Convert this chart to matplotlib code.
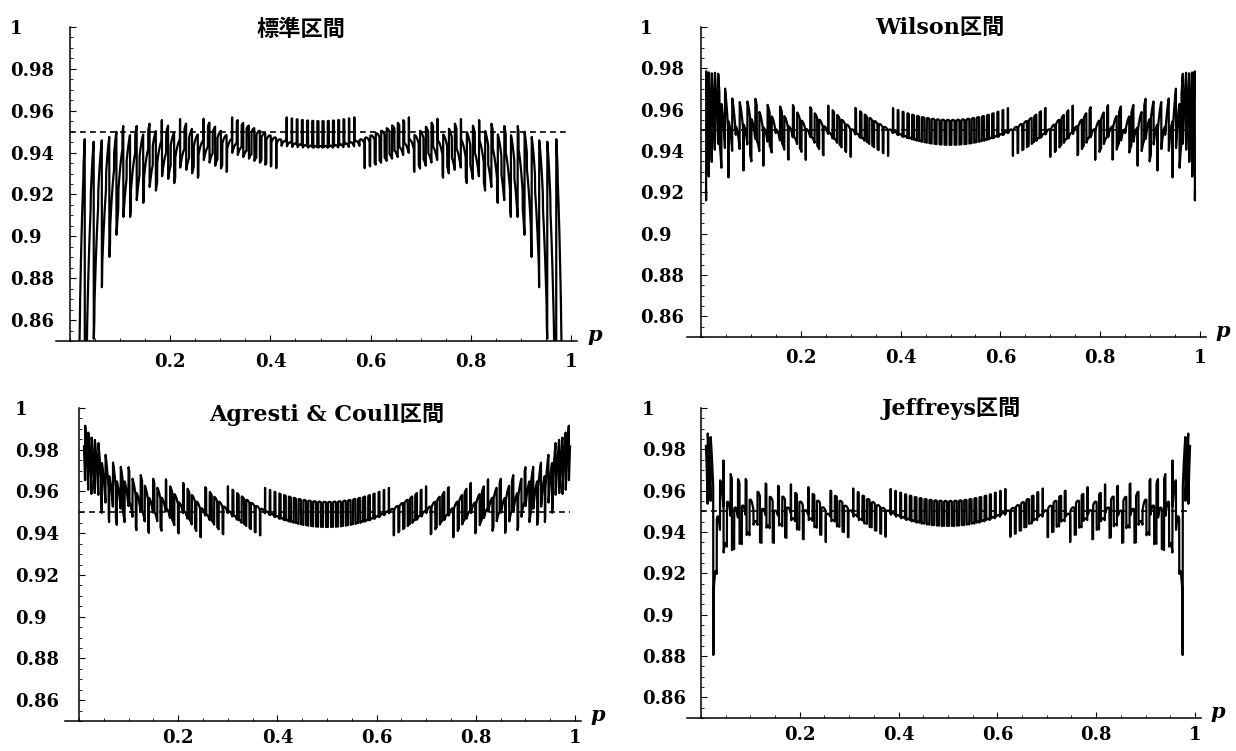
import math
from statistics import NormalDist

import matplotlib
matplotlib.use("Agg")
import matplotlib.pyplot as plt
import numpy as np
from matplotlib.ticker import FixedLocator, MultipleLocator

# chart data
n_trials = 100
conf_level = 0.95
p_start, p_stop = 0.01, 0.99
titles = ["標準区間", "Wilson区間", "Agresti & Coull区間", "Jeffreys区間"]
methods = ["wald", "wilson", "agresti", "jeffreys"]
x_ticks = [0.2, 0.4, 0.6, 0.8, 1.0]
x_tick_labels = ["0.2", "0.4", "0.6", "0.8", "1"]
y_ticks = [0.86, 0.88, 0.90, 0.92, 0.94, 0.96, 0.98, 1.00]
y_tick_labels = ["0.86", "0.88", "0.9", "0.92", "0.94", "0.96", "0.98", "1"]
target_level = 0.95

plt.rcParams["font.family"] = ["DejaVu Serif", "Noto Sans CJK JP"]
plt.rcParams["font.weight"] = "bold"


def betacf(a, b, x):
    # continued fraction for the incomplete beta function
    fpmin = 1e-300
    qab, qap, qam = a + b, a + 1.0, a - 1.0
    c = 1.0
    d = 1.0 - qab * x / qap
    d = 1.0 / (d if abs(d) > fpmin else fpmin)
    h = d
    for m in range(1, 400):
        m2 = 2 * m
        aa = m * (b - m) * x / ((qam + m2) * (a + m2))
        d = 1.0 + aa * d
        d = 1.0 / (d if abs(d) > fpmin else fpmin)
        c = 1.0 + aa / c
        c = c if abs(c) > fpmin else fpmin
        h *= d * c
        aa = -(a + m) * (qab + m) * x / ((a + m2) * (qap + m2))
        d = 1.0 + aa * d
        d = 1.0 / (d if abs(d) > fpmin else fpmin)
        c = 1.0 + aa / c
        c = c if abs(c) > fpmin else fpmin
        de = d * c
        h *= de
        if abs(de - 1.0) < 1e-14:
            break
    return h


def betainc(a, b, x):
    if x <= 0.0:
        return 0.0
    if x >= 1.0:
        return 1.0
    lbt = (math.lgamma(a + b) - math.lgamma(a) - math.lgamma(b)
           + a * math.log(x) + b * math.log(1.0 - x))
    if x < (a + 1.0) / (a + b + 2.0):
        return math.exp(lbt) * betacf(a, b, x) / a
    return 1.0 - math.exp(lbt) * betacf(b, a, 1.0 - x) / b


def beta_ppf(q, a, b):
    lo, hi = 0.0, 1.0
    for _ in range(60):
        mid = 0.5 * (lo + hi)
        if betainc(a, b, mid) < q:
            lo = mid
        else:
            hi = mid
    return 0.5 * (lo + hi)


def interval_bounds(method, n, alpha):
    z = NormalDist().inv_cdf(1 - alpha / 2)
    x = np.arange(n + 1)
    if method == "wald":
        ph = x / n
        half = z * np.sqrt(ph * (1 - ph) / n)
        return ph - half, ph + half
    if method == "wilson":
        ph = x / n
        centre = (ph + z**2 / (2 * n)) / (1 + z**2 / n)
        half = z * np.sqrt(ph * (1 - ph) / n + z**2 / (4 * n**2)) / (1 + z**2 / n)
        return centre - half, centre + half
    if method == "agresti":
        nt = n + z**2
        pt = (x + z**2 / 2) / nt
        half = z * np.sqrt(pt * (1 - pt) / nt)
        return pt - half, pt + half
    # Jeffreys
    lower = np.array([0.0 if k == 0 else beta_ppf(alpha / 2, k + 0.5, n - k + 0.5) for k in x])
    upper = np.array([1.0 if k == n else beta_ppf(1 - alpha / 2, k + 0.5, n - k + 0.5) for k in x])
    return lower, upper


def coverage(method, n, alpha, p):
    lower, upper = interval_bounds(method, n, alpha)
    x = np.arange(n + 1)
    log_comb = np.array([math.lgamma(n + 1) - math.lgamma(k + 1) - math.lgamma(n - k + 1) for k in x])
    log_pmf = log_comb[None, :] + x[None, :] * np.log(p[:, None]) + (n - x)[None, :] * np.log(1 - p[:, None])
    inside = (lower[None, :] <= p[:, None]) & (p[:, None] <= upper[None, :])
    return (np.exp(log_pmf) * inside).sum(axis=1)


W, H = 1236, 751
fig = plt.figure(figsize=(W / 100, H / 100), dpi=100)

# pixel geometry: x of p=0, x of p=1, y of 1.0, y of 0.85, x of y labels, title centre, x label pad
panels = [
    (70, 571, 27, 341, 10, (301, 30), 8.5),
    (701, 1200, 27, 337, 640, (940, 28), 8.5),
    (79, 575, 408, 721, 15, (327, 415), 6),
    (701, 1195, 408, 718, 642, (951, 408), 6),
]
x_lo, x_hi = -0.028, 1.012
y_lo, y_hi = 0.85, 1.0

p_grid = np.linspace(p_start, p_stop, 4000)

for title, method, (px0, px1, py1, py0, lab_x, (tx, ty), xpad) in zip(titles, methods, panels):
    sx = px1 - px0
    left = px0 + x_lo * sx
    right = px0 + x_hi * sx
    ax = fig.add_axes([left / W, 1 - py0 / H, (right - left) / W, (py0 - py1) / H])
    ax.set_xlim(x_lo, x_hi)
    ax.set_ylim(y_lo, y_hi)

    cov = coverage(method, n_trials, 1 - conf_level, p_grid)
    ax.hlines(target_level, 0, p_stop, colors="black", linestyles=(0, (3.5, 2.5)), lw=1.2)
    ax.plot(p_grid, cov, color="black", lw=1.6)

    for side in ["top", "right"]:
        ax.spines[side].set_visible(False)
    ax.spines["left"].set_position(("data", 0))
    ax.spines["left"].set_linewidth(1.1)
    ax.spines["bottom"].set_linewidth(1.1)

    ax.xaxis.set_major_locator(FixedLocator(x_ticks))
    ax.set_xticklabels(x_tick_labels)
    ax.xaxis.set_minor_locator(MultipleLocator(0.05))
    ax.yaxis.set_major_locator(FixedLocator(y_ticks))
    ax.set_yticklabels(y_tick_labels)
    ax.yaxis.set_minor_locator(MultipleLocator(0.005))

    ypad = (px0 - lab_x) * 0.72
    ax.tick_params(axis="both", which="major", direction="in", length=4, width=0.8, labelsize=13)
    ax.tick_params(axis="both", which="minor", direction="in", length=2, width=0.6)
    ax.tick_params(axis="x", which="major", pad=xpad)
    ax.tick_params(axis="y", which="major", pad=ypad)
    for lab in ax.get_yticklabels():
        lab.set_horizontalalignment("left")

    ax.text(x_hi + 0.02, 0.853, "p", fontsize=15, style="italic", ha="left", va="center",
            clip_on=False)
    fig.text(tx / W, 1 - ty / H, title, fontsize=16, ha="center", va="center")

fig.savefig("out.png", dpi=100)
